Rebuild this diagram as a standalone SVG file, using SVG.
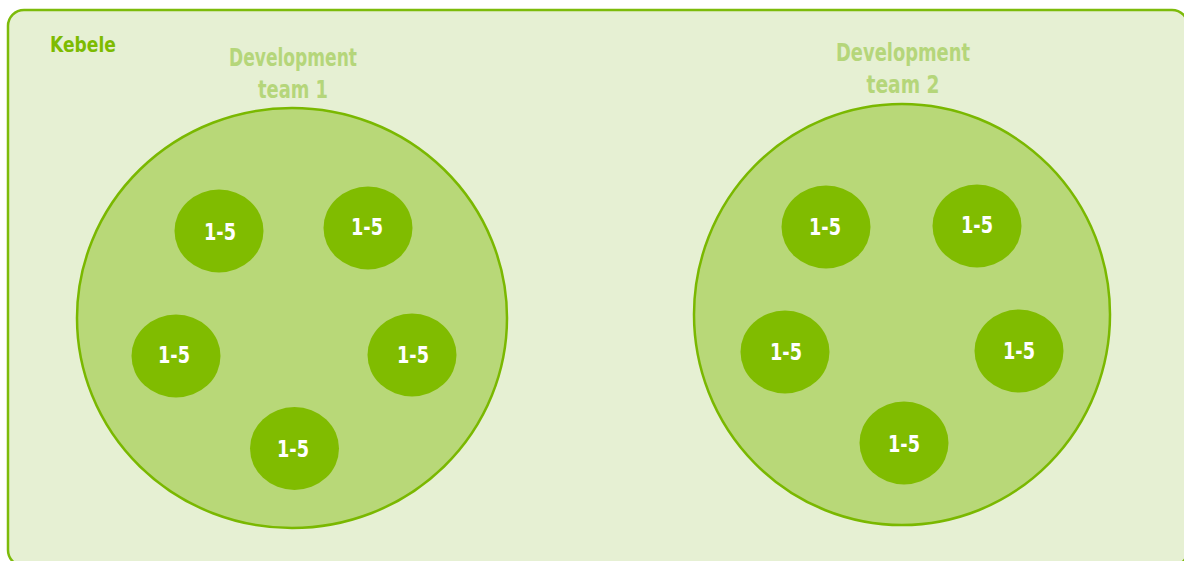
<svg xmlns="http://www.w3.org/2000/svg" width="1184" height="561" viewBox="0 0 1184 561">
  <style>
    .frame { fill: #e6f0d3; stroke: #7dbb0a; stroke-width: 2.5; }
    .team { fill: #b8d878; stroke: #7ab800; stroke-width: 2.5; }
    .member { fill: #80bc00; }
    .lbl { font-family: "Liberation Sans Narrow", "DejaVu Sans Condensed", "Liberation Sans", Arial, sans-serif; font-weight: bold; }
    .title { fill: #b5d67a; font-size: 24px; text-anchor: middle; }
    .num { fill: #ffffff; font-size: 23px; text-anchor: middle; dominant-baseline: central; }
    .kebele { fill: #7dbb00; font-size: 22px; }
  </style>

  <rect class="frame" x="8" y="10" width="1180" height="556" rx="16" ry="16"/>
  <text class="lbl kebele" x="50" y="52" textLength="66" lengthAdjust="spacingAndGlyphs">Kebele</text>

  <g id="team1">
    <ellipse class="team" cx="292" cy="318" rx="215" ry="210"/>
    <text class="lbl title" x="293" y="66" textLength="128" lengthAdjust="spacingAndGlyphs">Development</text>
    <text class="lbl title" x="293" y="98" textLength="70" lengthAdjust="spacingAndGlyphs">team 1</text>
    <g id="team1-m1"><ellipse class="member" cx="219" cy="231" rx="44.5" ry="41.5"/><text class="lbl num" x="220" y="232" textLength="32" lengthAdjust="spacingAndGlyphs">1-5</text></g>
    <g id="team1-m2"><ellipse class="member" cx="368" cy="228" rx="44.5" ry="41.5"/><text class="lbl num" x="367" y="227" textLength="32" lengthAdjust="spacingAndGlyphs">1-5</text></g>
    <g id="team1-m3"><ellipse class="member" cx="176" cy="356" rx="44.5" ry="41.5"/><text class="lbl num" x="174" y="355" textLength="32" lengthAdjust="spacingAndGlyphs">1-5</text></g>
    <g id="team1-m4"><ellipse class="member" cx="412" cy="355" rx="44.5" ry="41.5"/><text class="lbl num" x="413" y="355" textLength="32" lengthAdjust="spacingAndGlyphs">1-5</text></g>
    <g id="team1-m5"><ellipse class="member" cx="294.5" cy="448.5" rx="44.5" ry="41.5"/><text class="lbl num" x="293" y="449" textLength="32" lengthAdjust="spacingAndGlyphs">1-5</text></g>
  </g>

  <g id="team2">
    <ellipse class="team" cx="902" cy="314.5" rx="208" ry="210.5"/>
    <text class="lbl title" x="903" y="61" textLength="134" lengthAdjust="spacingAndGlyphs">Development</text>
    <text class="lbl title" x="903" y="93" textLength="73" lengthAdjust="spacingAndGlyphs">team 2</text>
    <g id="team2-m1"><ellipse class="member" cx="826" cy="227" rx="44.5" ry="41.5"/><text class="lbl num" x="825" y="227" textLength="32" lengthAdjust="spacingAndGlyphs">1-5</text></g>
    <g id="team2-m2"><ellipse class="member" cx="977" cy="226" rx="44.5" ry="41.5"/><text class="lbl num" x="977" y="225" textLength="32" lengthAdjust="spacingAndGlyphs">1-5</text></g>
    <g id="team2-m3"><ellipse class="member" cx="785" cy="352" rx="44.5" ry="41.5"/><text class="lbl num" x="786" y="352" textLength="32" lengthAdjust="spacingAndGlyphs">1-5</text></g>
    <g id="team2-m4"><ellipse class="member" cx="1019" cy="351" rx="44.5" ry="41.5"/><text class="lbl num" x="1019" y="351" textLength="32" lengthAdjust="spacingAndGlyphs">1-5</text></g>
    <g id="team2-m5"><ellipse class="member" cx="904" cy="443" rx="44.5" ry="41.5"/><text class="lbl num" x="904" y="444" textLength="32" lengthAdjust="spacingAndGlyphs">1-5</text></g>
  </g>

  <g id="connectors"/>
</svg>
